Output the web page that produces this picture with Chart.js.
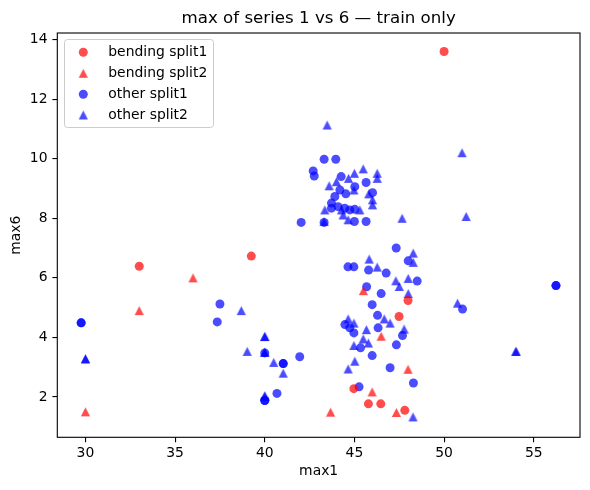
<!DOCTYPE html>
<html>
<head>
<meta charset="utf-8">
<script src="https://cdn.jsdelivr.net/npm/chart.js@4.4.1/dist/chart.umd.min.js"></script>
<style>
  html, body { margin: 0; padding: 0; background: #fff; }
</style>
</head>
<body>
<canvas id="scatter" width="590" height="490"></canvas>
<script>
// values
const bendingSplit1X = [33.0, 39.25, 50.0, 47.99, 47.49, 44.97, 45.78, 46.47, 47.81];
const bendingSplit1Y = [6.39, 6.73, 13.6, 5.24, 4.70, 2.28, 1.77, 1.77, 1.55];

const bendingSplit2X = [30.0, 33.0, 36.0, 45.5, 46.49, 47.99, 45.99, 47.34, 43.67];
const bendingSplit2Y = [1.50, 4.90, 6.00, 5.57, 4.04, 2.93, 2.17, 1.48, 1.49];

const otherSplit1X = [
  29.76, 29.76, 37.5, 37.35, 40.0, 41.03, 41.03, 40.0, 40.0, 40.68, 41.95, 42.03,
  43.31, 43.96, 42.70, 42.76, 44.26, 45.65, 45.02, 44.19, 44.52, 46.01, 43.72, 43.72,
  44.09, 44.46, 44.74, 45.02, 43.31, 45.0, 45.65, 43.91,
  47.33, 48.0, 44.64, 44.97, 45.79, 46.77, 48.5, 45.68, 46.49, 45.99, 51.03, 46.29,
  46.32, 44.47, 44.74, 44.97, 47.68, 45.34, 47.34, 45.99, 46.99, 48.29, 45.26, 56.24, 56.24
];
const otherSplit1Y = [
  4.49, 4.49, 5.12, 4.52, 3.48, 3.12, 3.12, 1.88, 1.88, 2.12, 3.35, 7.86,
  9.98, 9.98, 9.59, 9.42, 9.40, 9.20, 9.06, 8.95, 8.82, 8.86, 8.51, 8.34,
  8.39, 8.34, 8.28, 8.30, 7.86, 7.89, 7.89, 8.73,
  7.00, 6.57, 6.37, 6.37, 6.26, 6.16, 5.89, 5.70, 5.47, 5.10, 4.95, 4.74,
  4.32, 4.43, 4.32, 4.15, 4.06, 3.65, 3.75, 3.39, 2.98, 2.47, 2.34, 5.74, 5.74
];

const otherSplit2X = [
  30.0, 30.0, 38.69, 39.02, 40.0, 40.0, 40.0, 40.0, 40.0, 40.0, 40.5, 41.03,
  43.48, 45.49, 45.0, 46.27, 46.27, 44.67, 43.59, 44.0, 44.97, 45.80, 46.01, 46.01,
  43.35, 44.28, 45.30, 44.37, 43.31, 44.65, 47.66, 51.0, 51.23,
  48.28, 48.28, 45.82, 46.27, 47.31, 48.0, 47.5, 48.0, 50.75,
  44.65, 46.66, 46.99, 44.97, 45.67, 47.77, 45.49, 44.97, 45.78, 45.02, 44.65, 48.27, 54.01, 54.01
];
const otherSplit2Y = [
  3.28, 3.28, 4.90, 3.53, 4.03, 4.03, 3.50, 3.50, 2.03, 2.03, 3.16, 2.80,
  11.13, 9.66, 9.51, 9.51, 9.34, 9.34, 9.09, 9.23, 8.95, 8.82, 8.62, 8.45,
  8.28, 8.28, 8.28, 8.11, 7.89, 7.95, 8.00, 10.20, 8.06,
  6.83, 6.52, 6.63, 6.36, 5.90, 5.98, 5.71, 5.47, 5.15,
  4.62, 4.62, 4.48, 4.48, 4.26, 4.28, 3.95, 3.73, 3.81, 3.20, 2.94, 1.33, 3.53, 3.53
];

const xTicks = [30, 35, 40, 45, 50, 55];
const yTicks = [2, 4, 6, 8, 10, 12, 14];

const RED = 'rgba(255, 0, 0, 0.7)';
const BLUE = 'rgba(0, 0, 255, 0.7)';
const FONT = 'DejaVu Sans';

function toPoints(xs, ys) {
  return xs.map((x, i) => ({ x: x, y: ys[i] }));
}

// matplotlib style "^" marker: triangle centred on its bounding box
function makeTriangle(color) {
  const c = document.createElement('canvas');
  c.width = 11;
  c.height = 11;
  const g = c.getContext('2d');
  const h = 4.6;
  g.fillStyle = color;
  g.beginPath();
  g.moveTo(5.5, 5.5 - h);
  g.lineTo(5.5 - h, 5.5 + h);
  g.lineTo(5.5 + h, 5.5 + h);
  g.closePath();
  g.fill();
  return c;
}

const redTriangle = makeTriangle(RED);
const blueTriangle = makeTriangle(BLUE);

// legend box drawn inside the plot, upper left
const innerLegend = {
  id: 'innerLegend',
  afterDraw(chart) {
    const ctx = chart.ctx;
    const x0 = 64.5, y0 = 39.5, w = 149, h = 88, r = 3;
    ctx.save();
    ctx.beginPath();
    ctx.roundRect(x0, y0, w, h, r);
    ctx.fillStyle = 'rgba(255, 255, 255, 0.8)';
    ctx.fill();
    ctx.strokeStyle = '#cccccc';
    ctx.lineWidth = 1;
    ctx.stroke();
    ctx.font = '13.9px "' + FONT + '"';
    ctx.textBaseline = 'middle';
    const rows = [52.3, 73.3, 94.2, 115];
    chart.data.datasets.forEach((ds, i) => {
      ctx.fillStyle = ds.backgroundColor;
      Chart.helpers.drawPoint(ctx, {
        pointStyle: ds.pointStyle,
        radius: ds.pointRadius,
        rotation: 0,
        borderWidth: 0
      }, 83.3, rows[i]);
      ctx.fillStyle = '#000';
      ctx.fillText(ds.label, 108.3, rows[i]);
    });
    ctx.restore();
  }
};

// full box around the axes, like matplotlib spines
const axesBox = {
  id: 'axesBox',
  afterDatasetsDraw(chart) {
    const a = chart.chartArea;
    const ctx = chart.ctx;
    ctx.save();
    ctx.strokeStyle = '#000';
    ctx.lineWidth = 1.1;
    ctx.strokeRect(a.left, a.top, a.right - a.left, a.bottom - a.top);
    ctx.restore();
  }
};

Chart.defaults.font.family = FONT;
Chart.defaults.color = '#000';

const ctx = document.getElementById('scatter').getContext('2d');
const scatterChart = new Chart(ctx, {
  type: 'scatter',
  data: {
    datasets: [{
      label: 'bending split1',
      data: toPoints(bendingSplit1X, bendingSplit1Y),
      pointStyle: 'circle',
      pointRadius: 4.5,
      backgroundColor: RED,
      borderWidth: 0
    }, {
      label: 'bending split2',
      data: toPoints(bendingSplit2X, bendingSplit2Y),
      pointStyle: redTriangle,
      pointRadius: 4.5,
      backgroundColor: RED,
      borderWidth: 0
    }, {
      label: 'other split1',
      data: toPoints(otherSplit1X, otherSplit1Y),
      pointStyle: 'circle',
      pointRadius: 4.5,
      backgroundColor: BLUE,
      borderWidth: 0
    }, {
      label: 'other split2',
      data: toPoints(otherSplit2X, otherSplit2Y),
      pointStyle: blueTriangle,
      pointRadius: 4.5,
      backgroundColor: BLUE,
      borderWidth: 0
    }]
  },
  options: {
    responsive: false,
    animation: false,
    events: [],
    layout: {
      padding: { left: 0, right: 10, top: 0, bottom: 0 }
    },
    plugins: {
      legend: { display: false },
      tooltip: { enabled: false },
      title: {
        display: true,
        fullSize: false,
        text: 'max of series 1 vs 6 \u2014 train only',
        font: { family: FONT, size: 16.67, weight: 'normal' },
        color: '#000',
        padding: { top: 8.5, bottom: 4.5 }
      }
    },
    scales: {
      x: {
        type: 'linear',
        min: 28.43,
        max: 57.58,
        afterBuildTicks: scale => { scale.ticks = xTicks.map(v => ({ value: v })); },
        afterFit: scale => { scale.height = 52.7; },
        grid: { drawOnChartArea: false, drawTicks: true, tickLength: 4.9, color: '#000', lineWidth: 1.1 },
        border: { display: false },
        ticks: { font: { size: 13.9 }, padding: 3, maxRotation: 0 },
        title: { display: true, text: 'max1', font: { size: 13.9 }, padding: { top: 0, bottom: 10 } }
      },
      y: {
        type: 'linear',
        min: 0.646,
        max: 14.22,
        afterBuildTicks: scale => { scale.ticks = yTicks.map(v => ({ value: v })); },
        afterFit: scale => { scale.width = 57.3; },
        grid: { drawOnChartArea: false, drawTicks: true, tickLength: 4.9, color: '#000', lineWidth: 1.1 },
        border: { display: false },
        ticks: { font: { size: 13.9 }, padding: 4.9 },
        title: { display: true, text: 'max6', font: { size: 13.9 }, padding: { top: 8.5, bottom: 0 } }
      }
    }
  },
  plugins: [axesBox, innerLegend]
});
</script>
</body>
</html>
